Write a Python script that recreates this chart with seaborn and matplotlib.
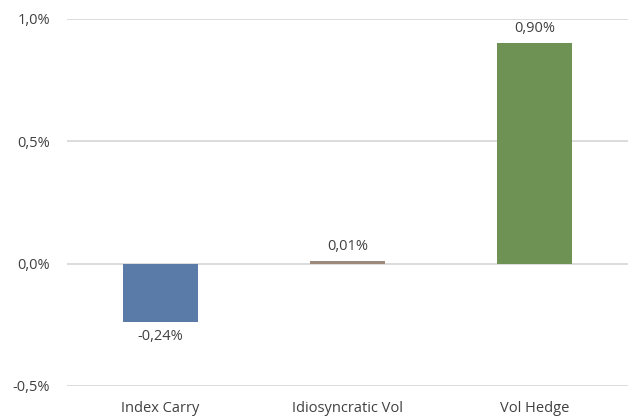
import seaborn as sns
import pandas as pd
import matplotlib.pyplot as plt

categories = ["Index Carry", "Idiosyncratic Vol", "Vol Hedge"]
values = [-0.24, 0.01, 0.90]
colors = ["#5a7ba7", "#9c8b7c", "#6e9154"]


def pct(v, dec):
    return f"{v:.{dec}f}%".replace(".", ",")


def main():
    sns.set_theme(style="white")
    plt.rcParams["font.family"] = ["Open Sans", "DejaVu Sans"]

    df = pd.DataFrame({"category": categories, "value": values})

    fig = plt.figure(figsize=(6.3, 4.19), dpi=100)
    ax = fig.add_axes([0.106, 0.079, 0.891, 0.876])
    sns.barplot(data=df, x="category", y="value", hue="category",
                palette=colors, width=0.4, saturation=1, linewidth=0,
                legend=False, ax=ax, zorder=3)

    ax.set_ylim(-0.5, 1.0)
    ax.set_yticks([-0.5, 0.0, 0.5, 1.0])
    ax.set_yticklabels([pct(t, 1) for t in [-0.5, 0.0, 0.5, 1.0]])
    ax.grid(axis="y", color="#d9d9d9", linewidth=1.3, zorder=0)
    ax.set_xlabel("")
    ax.set_ylabel("")
    for s in ax.spines.values():
        s.set_visible(False)
    ax.tick_params(axis="both", length=0, labelsize=10.5, labelcolor="#404040")
    ax.tick_params(axis="y", pad=12)
    ax.tick_params(axis="x", pad=11)

    # data labels: above positive bars, below negative ones
    for cont in ax.containers:
        for bar in cont:
            i = int(round(bar.get_x() + bar.get_width() / 2))
            v = values[i]
            ax.annotate(pct(v, 2), (bar.get_x() + bar.get_width() / 2, v),
                        xytext=(0, 5 if v >= 0 else -5), textcoords="offset points",
                        ha="center", va="bottom" if v >= 0 else "top",
                        fontsize=10.5, color="#404040")

    fig.savefig("out.png", dpi=100)


if __name__ == "__main__":
    main()
